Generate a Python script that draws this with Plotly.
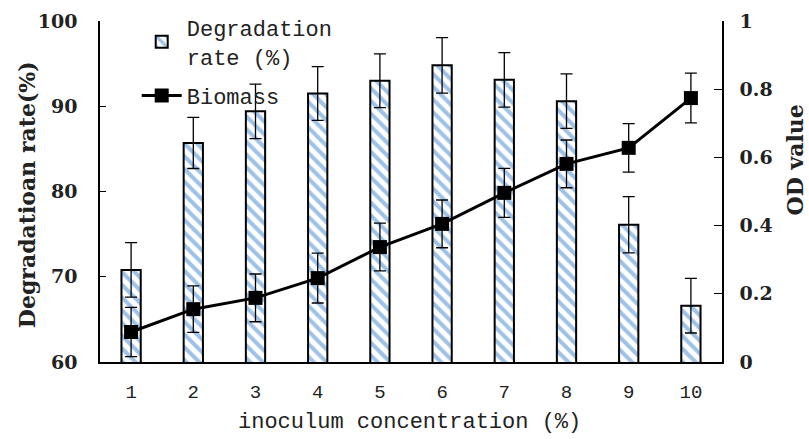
import plotly.graph_objects as go

concentration = [1, 2, 3, 4, 5, 6, 7, 8, 9, 10]
degradation = [70.8, 85.7, 89.4, 91.5, 93.0, 94.8, 93.1, 90.6, 76.1, 66.6]
degradation_err = [3.2, 3.0, 3.2, 3.15, 3.15, 3.25, 3.2, 3.2, 3.3, 3.2]
biomass = [0.088, 0.155, 0.188, 0.246, 0.337, 0.405, 0.496, 0.581, 0.628, 0.774]
biomass_err = [0.072, 0.068, 0.07, 0.073, 0.07, 0.07, 0.072, 0.07, 0.071, 0.073]

left_ticks = [60, 70, 80, 90, 100]
right_ticks = [0, 0.2, 0.4, 0.6, 0.8, 1]

MONO = "Liberation Mono"
SERIF = "DejaVu Serif"

fig = go.Figure()
fig.add_trace(go.Bar(
    x=concentration, y=degradation, name="Degradation<br>rate (%)",
    legendgroup="deg", width=0.31,
    marker=dict(color="white", line=dict(color="black", width=2),
                pattern=dict(shape="\\", fgcolor="#3d85d0", bgcolor="white",
                             size=9, solidity=0.45)),
    error_y=dict(type="data", array=degradation_err, color="black",
                 thickness=1.3, width=6),
))
fig.add_trace(go.Scatter(
    x=concentration, y=biomass, name="Biomass", yaxis="y2",
    legendgroup="bio", mode="lines+markers",
    line=dict(color="black", width=3),
    marker=dict(symbol="square", size=14, color="black"),
    error_y=dict(type="data", array=biomass_err, color="black",
                 thickness=1.3, width=6),
))

fig.update_layout(
    width=809, height=439,
    margin=dict(l=100, r=87, t=21, b=77, autoexpand=False),
    paper_bgcolor="white", plot_bgcolor="white",
    showlegend=True,
    legend=dict(xref="container", yref="container", x=0.169, y=0.985,
                xanchor="left", yanchor="top",
                bgcolor="rgba(0,0,0,0)", font=dict(family=MONO, size=22, color="#222"),
                tracegroupgap=8, itemwidth=40),
    xaxis=dict(range=[0.5, 10.5], tickvals=concentration, ticks="",
               showline=True, linecolor="black", linewidth=1.5,
               showgrid=False, zeroline=False, automargin=False, ticklabelstandoff=11,
               tickfont=dict(family=MONO, size=19, color="#222")),
    yaxis=dict(range=[60, 100], tickvals=left_ticks, ticks="inside", ticklen=6,
               tickcolor="black", showline=True, linecolor="black", linewidth=1.5,
               showgrid=False, zeroline=False, ticklabelstandoff=17, automargin=False,
               tickfont=dict(family=SERIF, size=19, color="#222", weight="bold")),
    yaxis2=dict(range=[0, 1], tickvals=right_ticks, ticks="inside", ticklen=8,
                tickcolor="black", overlaying="y", side="right",
                showline=True, linecolor="black", linewidth=1.5,
                showgrid=False, zeroline=False, ticklabelstandoff=12, automargin=False,
                tickfont=dict(family=SERIF, size=19, color="#222", weight="bold")),
    annotations=[
        dict(text="Degradatioan rate(%)", xref="paper", yref="paper",
             x=-0.117, y=0.49, xanchor="center", yanchor="middle",
             textangle=-90, showarrow=False,
             font=dict(family=SERIF, size=22, color="#222", weight="bold")),
        dict(text="OD value", xref="paper", yref="paper",
             x=1.118, y=0.592, xanchor="center", yanchor="middle",
             textangle=-90, showarrow=False,
             font=dict(family=SERIF, size=22, color="#222", weight="bold")),
        dict(text="inoculum concentration (%)", xref="paper", yref="paper",
             x=0.497, y=-0.178, xanchor="center", yanchor="middle",
             showarrow=False, font=dict(family=MONO, size=22, color="#222")),
    ],
)

fig.write_html("out.html", config={"displayModeBar": False},
               post_script="document.body.style.margin='0';")
